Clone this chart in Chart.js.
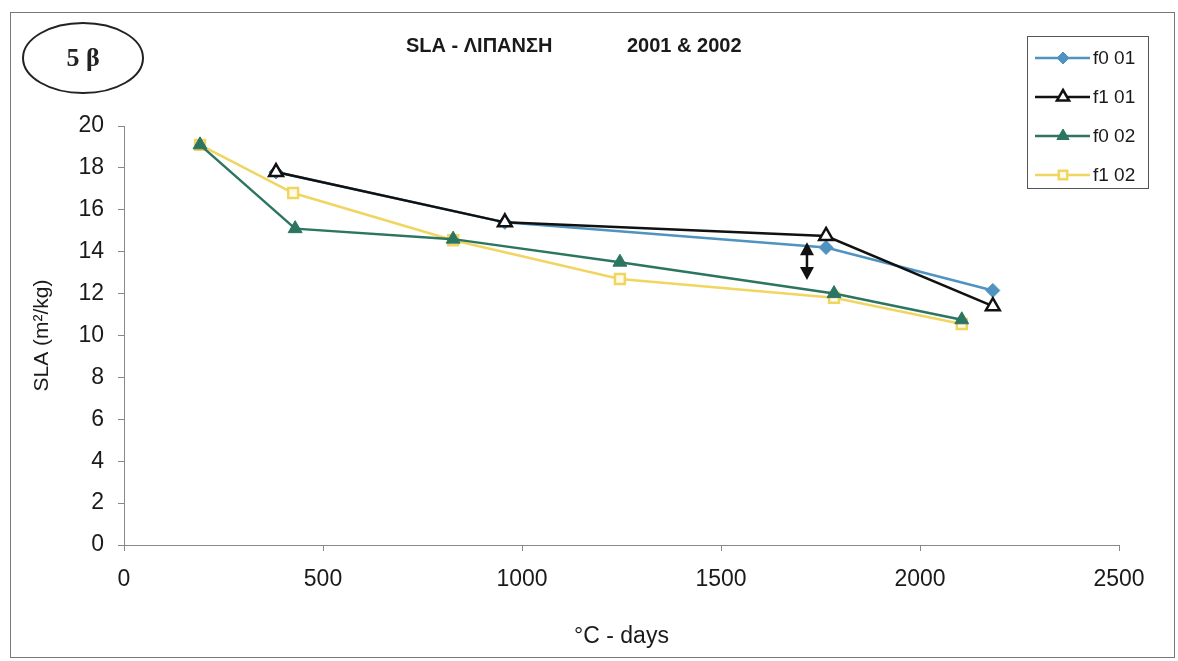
<!DOCTYPE html>
<html>
<head>
<meta charset="utf-8">
<script src="https://cdn.jsdelivr.net/npm/chart.js@4.4.1/dist/chart.umd.min.js"></script>
<style>
  html, body { margin: 0; padding: 0; background: #fff; }
  #wrap { width: 1178px; height: 661px; }
</style>
</head>
<body>
<div id="wrap"><canvas id="myChart"></canvas></div>
<script>
// degree-days (x) and SLA values (y)
const f0_01_days = [382, 957, 1764, 2183];
const f0_01_sla = [17.8, 15.4, 14.2, 12.15];
const f1_01_days = [382, 957, 1764, 2183];
const f1_01_sla = [17.8, 15.4, 14.75, 11.4];
const f0_02_days = [191, 430, 827, 1246, 1784, 2105];
const f0_02_sla = [19.1, 15.1, 14.6, 13.5, 12.0, 10.75];
const f1_02_days = [191, 425, 827, 1246, 1784, 2105];
const f1_02_sla = [19.1, 16.8, 14.55, 12.7, 11.8, 10.55];

const seriesNames = ['f0 01', 'f1 01', 'f0 02', 'f1 02'];
const xTicks = [0, 500, 1000, 1500, 2000, 2500];
const yTicks = [0, 2, 4, 6, 8, 10, 12, 14, 16, 18, 20];

// double arrow between the 2001 and 2002 curves
const arrowDay = 1716;
const arrowFrom = 14.45;
const arrowTo = 12.65;

const pts = (xs, ys) => xs.map((x, i) => ({ x: x, y: ys[i] }));

const blue = '#4f93c0';
const black = '#111111';
const green = '#2b7561';
const yellow = '#f0d660';

const ctx = document.getElementById('myChart');

const datasets = [
  {
    label: seriesNames[0],
    data: pts(f0_01_days, f0_01_sla),
    borderColor: blue, backgroundColor: blue,
    pointStyle: 'rectRot', pointRadius: 7, pointBorderWidth: 1,
    borderWidth: 2.5, order: 3
  },
  {
    label: seriesNames[1],
    data: pts(f1_01_days, f1_01_sla),
    borderColor: black, backgroundColor: '#ffffff',
    pointStyle: 'triangle', pointRadius: 8, pointBorderWidth: 2.5,
    borderWidth: 2.5, order: 1
  },
  {
    label: seriesNames[2],
    data: pts(f0_02_days, f0_02_sla),
    borderColor: green, backgroundColor: green,
    pointStyle: 'triangle', pointRadius: 8, pointBorderWidth: 1,
    borderWidth: 2.5, order: 0
  },
  {
    label: seriesNames[3],
    data: pts(f1_02_days, f1_02_sla),
    borderColor: yellow, backgroundColor: '#fffbe8',
    pointStyle: 'rect', pointRadius: 7, pointBorderWidth: 2.5,
    borderWidth: 2.5, order: 2
  }
];

function marker(c, style, x, y, r, fill, stroke, lw) {
  c.save();
  c.beginPath();
  if (style === 'rectRot') {
    c.moveTo(x, y - r); c.lineTo(x + r, y); c.lineTo(x, y + r); c.lineTo(x - r, y);
  } else if (style === 'triangle') {
    c.moveTo(x, y - r); c.lineTo(x + r * 0.87, y + r * 0.5); c.lineTo(x - r * 0.87, y + r * 0.5);
  } else {
    c.rect(x - r * 0.7, y - r * 0.7, r * 1.4, r * 1.4);
  }
  c.closePath();
  c.fillStyle = fill; c.fill();
  c.lineWidth = lw; c.strokeStyle = stroke; c.stroke();
  c.restore();
}

const decor = {
  id: 'decor',
  beforeDraw(chart) {
    const c = chart.ctx;
    c.save();
    c.fillStyle = '#ffffff';
    c.fillRect(0, 0, chart.width, chart.height);
    c.restore();
  },
  afterDraw(chart) {
    const c = chart.ctx;
    c.save();
    // outer frame
    c.strokeStyle = '#777';
    c.lineWidth = 1;
    c.strokeRect(10.5, 12.5, 1164, 645);

    // "5 β" ellipse
    c.beginPath();
    c.ellipse(83, 58, 60, 35, 0, 0, Math.PI * 2);
    c.lineWidth = 2;
    c.strokeStyle = '#222';
    c.stroke();
    c.fillStyle = '#222';
    c.font = 'bold 26px "Liberation Serif", "Times New Roman", serif';
    c.textAlign = 'center';
    c.textBaseline = 'middle';
    c.fillText('5 β', 83, 59);

    // title
    c.fillStyle = '#1a1a1a';
    c.font = 'bold 20px "Liberation Sans", Arial, sans-serif';
    c.textAlign = 'left';
    c.fillText('SLA - ΛΙΠΑΝΣΗ', 406, 46);
    c.fillText('2001 & 2002', 627, 46);

    // legend
    c.strokeStyle = '#555';
    c.lineWidth = 1;
    c.strokeRect(1027.5, 36.5, 121, 152);
    c.font = '19px "Liberation Sans", Arial, sans-serif';
    c.textBaseline = 'middle';
    datasets.forEach((ds, i) => {
      const y = 58 + i * 39;
      c.beginPath();
      c.moveTo(1035, y); c.lineTo(1090, y);
      c.strokeStyle = ds.borderColor; c.lineWidth = 2.5; c.stroke();
      marker(c, ds.pointStyle, 1063, y, ds.pointRadius - 1, ds.backgroundColor, ds.borderColor, ds.pointBorderWidth);
      c.fillStyle = '#1a1a1a';
      c.fillText(ds.label, 1093, y + 1);
    });

    // double arrow
    const xs = chart.scales.x, ys = chart.scales.y;
    const ax = xs.getPixelForValue(arrowDay);
    const a1 = ys.getPixelForValue(arrowFrom);
    const a2 = ys.getPixelForValue(arrowTo);
    c.strokeStyle = '#111'; c.fillStyle = '#111'; c.lineWidth = 2.5;
    c.beginPath(); c.moveTo(ax, a1 + 10); c.lineTo(ax, a2 - 10); c.stroke();
    c.beginPath(); c.moveTo(ax, a1); c.lineTo(ax + 7, a1 + 13); c.lineTo(ax - 7, a1 + 13); c.closePath(); c.fill();
    c.beginPath(); c.moveTo(ax, a2); c.lineTo(ax + 7, a2 - 13); c.lineTo(ax - 7, a2 - 13); c.closePath(); c.fill();
    c.restore();
  }
};

new Chart(ctx, {
  type: 'line',
  data: { datasets: datasets },
  plugins: [decor],
  options: {
    responsive: true,
    maintainAspectRatio: false,
    animation: false,
    layout: { padding: { left: 0, right: 59, top: 126, bottom: 0 } },
    plugins: {
      legend: { display: false },
      title: { display: false },
      tooltip: { enabled: false }
    },
    scales: {
      x: {
        type: 'linear',
        min: 0, max: 2500,
        afterBuildTicks: (axis) => { axis.ticks = xTicks.map(v => ({ value: v })); },
        afterFit: (axis) => { axis.height = 116; },
        grid: { display: true, drawOnChartArea: false, tickLength: 6, color: '#888' },
        border: { display: true, color: '#888', width: 1 },
        ticks: {
          color: '#1a1a1a', padding: 15, maxRotation: 0,
          callback: (v) => String(v),
          font: { family: '"Liberation Sans", Arial, sans-serif', size: 23 }
        },
        title: {
          display: true, text: '°C - days', color: '#1a1a1a',
          font: { family: '"Liberation Sans", Arial, sans-serif', size: 23 },
          padding: { top: 0, bottom: 11 }
        }
      },
      y: {
        min: 0, max: 20,
        afterBuildTicks: (axis) => { axis.ticks = yTicks.map(v => ({ value: v })); },
        afterFit: (axis) => { axis.width = 124; },
        grid: { display: true, drawOnChartArea: false, tickLength: 6, color: '#888' },
        border: { display: true, color: '#888', width: 1 },
        ticks: {
          color: '#1a1a1a', padding: 14,
          callback: (v) => String(v),
          font: { family: '"Liberation Sans", Arial, sans-serif', size: 23 }
        },
        title: {
          display: true, text: 'SLA (m²/kg)', color: '#1a1a1a',
          font: { family: '"Liberation Sans", Arial, sans-serif', size: 21 },
          padding: { top: 30, bottom: 0 }
        }
      }
    }
  }
});
</script>
</body>
</html>
